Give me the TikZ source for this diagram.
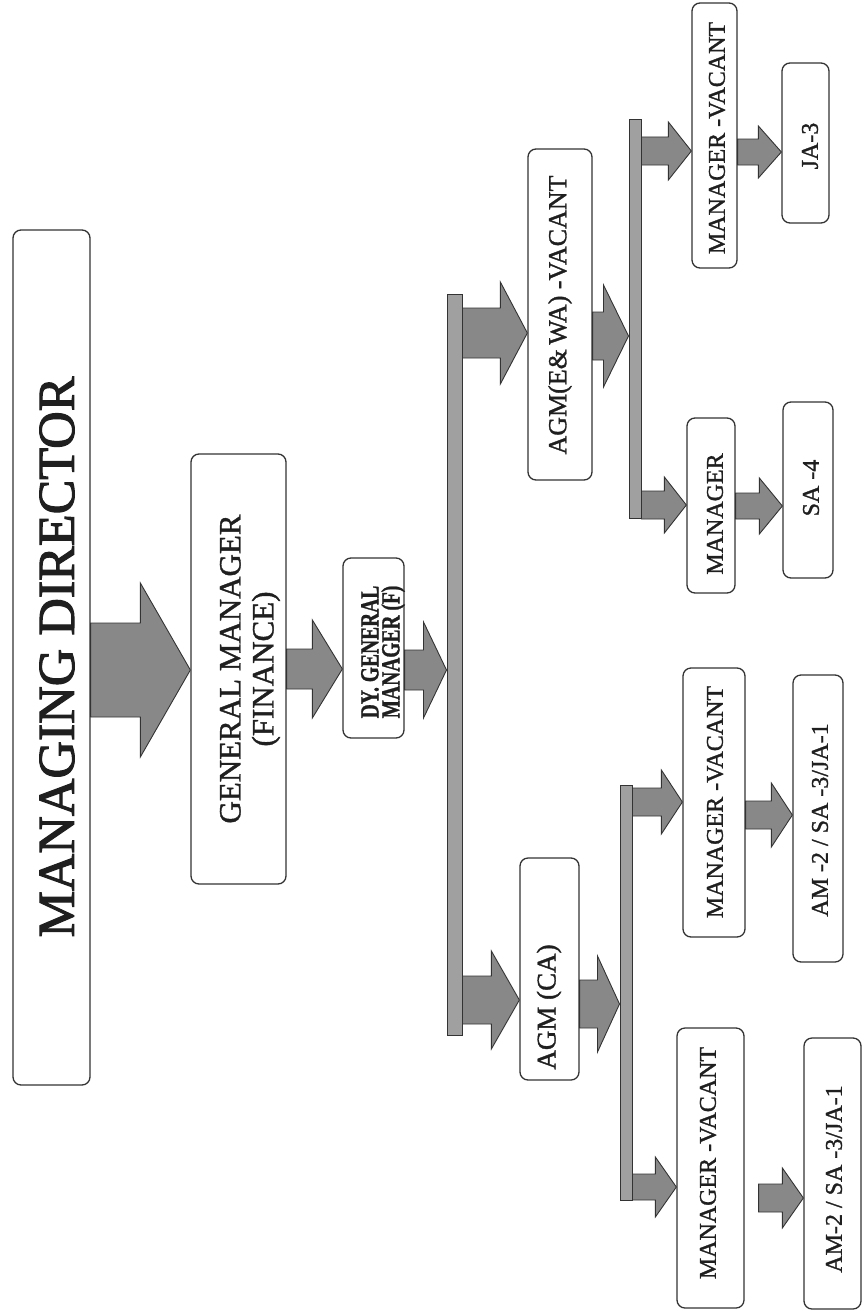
\documentclass[tikz,border=0pt]{standalone}
\usepackage{fontspec}
\setmainfont[FakeBold=1.2]{Liberation Serif}
\usetikzlibrary{calc}
\definecolor{ink}{HTML}{333333}
\definecolor{arrfill}{HTML}{888888}
\definecolor{barfill}{HTML}{A0A0A0}
\tikzset{
  box/.style={draw=ink, line width=1.3pt, rounded corners=8pt, fill=white, inner sep=0pt},
  lbl/.style={rotate=90, inner sep=0pt, text=black!88, align=center},
  barbox/.style={draw=ink, line width=1pt, fill=barfill, inner sep=0pt},
  blk/.style={fill=arrfill, draw=ink, line width=0.9pt, line join=miter},
  big/.style={font=\fontsize{52}{56}\selectfont\addfontfeature{FakeBold=2}},
  mid/.style={font=\fontsize{31}{33}\selectfont},
  agmfont/.style={font=\fontsize{26}{28}\selectfont},
  small/.style={font=\fontsize{24}{26}\selectfont},
}
% box node: name, x, y, width, height
\newcommand\bx[5]{\node[box, minimum width=#4pt, minimum height=#5pt] (#1) at (#2,#3) {};}
% block arrow: from anchor, to anchor, y, shaft half, head half, head length
\newcommand\blockarrow[6]{%
  \path[blk] let \p1=(#1 |- 0,#3), \p2=(#2 |- 0,#3) in
    (\x1,{\y1+#4pt}) -- ({\x2-#6pt},{\y1+#4pt}) -- ({\x2-#6pt},{\y1+#5pt}) -- (\x2,\y1)
    -- ({\x2-#6pt},{\y1-#5pt}) -- ({\x2-#6pt},{\y1-#4pt}) -- (\x1,{\y1-#4pt}) -- cycle;}
\begin{document}
\begin{tikzpicture}[x=1pt,y=-1pt]
\fill[white] (0,0) rectangle (863,1311);
\useasboundingbox (0,0) rectangle (863,1311);

% boxes
\bx{md}{51.5}{657.5}{77}{855}
\bx{gm}{238.5}{669}{95}{430}
\bx{dgm}{373.5}{648}{61}{180}
\bx{agmE}{560}{314.5}{64}{331}
\bx{agmC}{549.5}{969}{59}{222}
\bx{mgrA}{714.5}{135.5}{45}{265}
\bx{ja}{805.5}{143}{47}{160}
\bx{mgrB}{711}{505.5}{48}{175}
\bx{sa}{808}{490}{50}{176}
\bx{mgrC}{714}{802.5}{62}{269}
\bx{amA}{818}{818.5}{50}{287}
\bx{mgrD}{710.5}{1168}{67}{280}
\bx{amB}{832.5}{1173.5}{57}{271}

% bars
\node[barbox, minimum width=15pt, minimum height=741pt] (bar) at (454.5,664.5) {};
\node[barbox, minimum width=12pt, minimum height=398pt] (barR) at (635,319) {};
\node[barbox, minimum width=12pt, minimum height=415pt] (barL) at (626,992.5) {};

% texts
\node[lbl, big] (mdT) at (57,657) {MANAGING DIRECTOR};
\node[lbl, mid] (gmT) at (250,669) {GENERAL MANAGER\\(FINANCE)};
\node[lbl, font=\bfseries\fontsize{26}{21}\selectfont] (dgmT) at (383,652)
  {\scalebox{0.75}[1]{DY. GENERAL}\\\scalebox{0.75}[1]{MANAGER (F)}};
\node[lbl, agmfont] (agmET) at (560,315) {AGM(E\&\,WA) -VACANT};
\node[lbl, font=\fontsize{27}{29}\selectfont] (agmCT) at (549,1007) {AGM (CA)};
\node[lbl, small] (mgrAT) at (717,138) {MANAGER -VACANT};
\node[lbl, small] (jaT) at (810,146) {JA-3};
\node[lbl, small] (mgrBT) at (715,514) {MANAGER};
\node[lbl, small] (saT) at (811,488) {SA -4};
\node[lbl, small] (mgrCT) at (715,802) {MANAGER -VACANT};
\node[lbl, small] (amAT) at (820,820) {AM -2 / SA -3/JA-1};
\node[lbl, small] (mgrDT) at (708,1163) {MANAGER -VACANT};
\node[lbl, small] (amBT) at (834,1179) {AM-2 / SA -3/JA-1};

% block arrows
\blockarrow{md.east}{gm.west}{670}{47}{87}{50}
\blockarrow{gm.east}{dgm.west}{669}{20}{49}{30}
\blockarrow{dgm.east}{bar.west}{670}{20}{48}{23}
\blockarrow{bar.east}{agmE.west}{333}{25}{51}{27}
\blockarrow{agmE.east}{barR.west}{336}{24}{51}{25}
\blockarrow{barR.east}{mgrA.west}{151}{14}{29}{23}
\blockarrow{mgrA.east}{ja.west}{152}{13}{26}{23}
\blockarrow{barR.east}{mgrB.west}{505}{14}{28}{22}
\blockarrow{mgrB.east}{sa.west}{506}{13}{28}{23}
\blockarrow{bar.east}{agmC.west}{1000}{24}{49}{28}
\blockarrow{agmC.east}{barL.west}{1004}{24}{48}{22}
\blockarrow{barL.east}{mgrC.west}{802}{14}{32}{21}
\blockarrow{mgrC.east}{amA.west}{815}{14}{32}{21}
\blockarrow{barL.east}{mgrD.west}{1187}{13}{30}{21}
\coordinate (gapD) at ([xshift=14pt]mgrD.east);
\blockarrow{gapD}{amB.west}{1198}{14}{30}{21}
\end{tikzpicture}
\end{document}
